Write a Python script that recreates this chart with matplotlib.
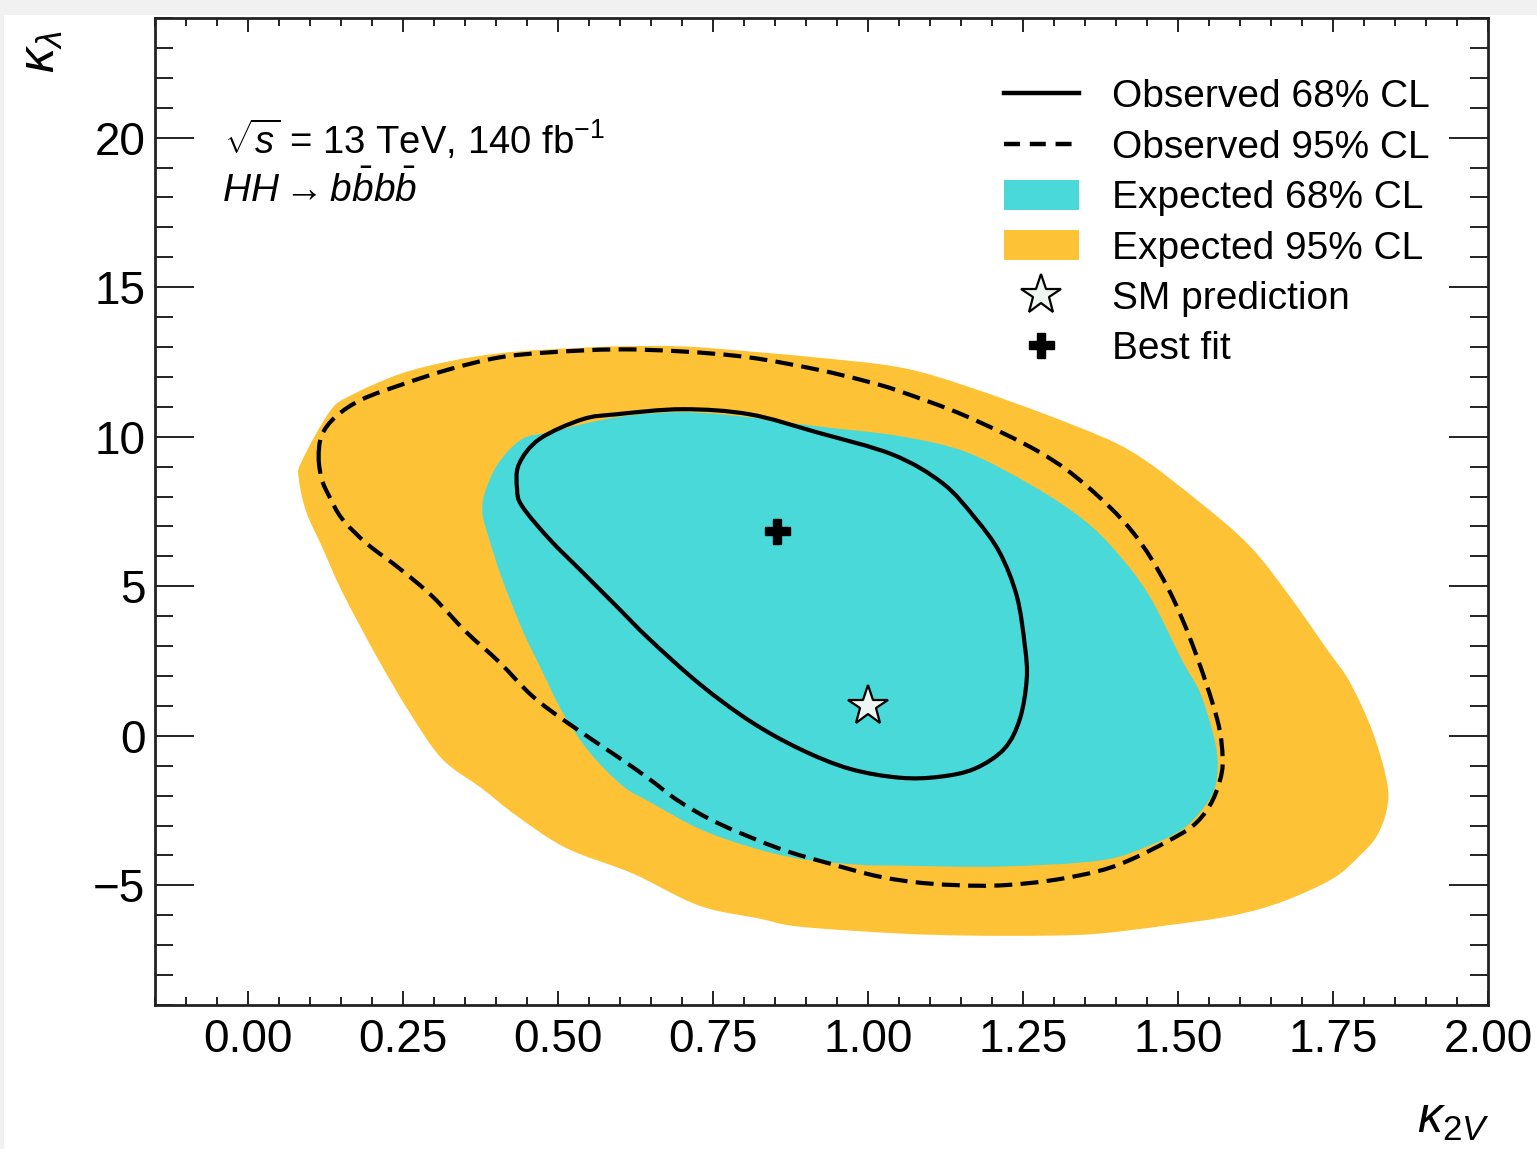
import matplotlib
matplotlib.use("Agg")
import numpy as np
import matplotlib.pyplot as plt
from matplotlib.patches import Rectangle, PathPatch, Patch
from matplotlib.path import Path
from matplotlib.lines import Line2D
from matplotlib.ticker import MultipleLocator, FormatStrFormatter

plt.rcParams["font.family"] = ["Liberation Sans", "DejaVu Sans"]
plt.rcParams["mathtext.fontset"] = "custom"
plt.rcParams["mathtext.rm"] = "Liberation Sans"
plt.rcParams["mathtext.it"] = "Liberation Sans:italic"
plt.rcParams["mathtext.bf"] = "Liberation Sans:bold"

# Expected 95% CL region (kappa_2V, kappa_lambda)
exp95_k2v = [0.082, 0.086, 0.131, 0.163, 0.244, 0.324, 0.405, 0.486, 0.594, 0.701,
             0.809, 0.917, 1.051, 1.159, 1.320, 1.427, 1.535, 1.616, 1.680, 1.740,
             1.777, 1.814, 1.837, 1.837, 1.821, 1.793, 1.750, 1.669, 1.588, 1.482,
             1.374, 1.293, 1.169, 1.051, 0.889, 0.825, 0.728, 0.620, 0.513, 0.433,
             0.378, 0.313, 0.260, 0.207, 0.152, 0.119, 0.094]
exp95_kl = [8.58, 9.15, 10.82, 11.35, 12.09, 12.52, 12.79, 12.92, 13.02, 13.02,
            12.85, 12.65, 12.32, 11.69, 10.48, 9.48, 7.81, 6.34, 4.67, 2.90,
            1.80, 0.13, -1.54, -2.44, -3.34, -4.01, -4.77, -5.54, -6.01, -6.34,
            -6.61, -6.68, -6.68, -6.61, -6.38, -6.11, -5.68, -4.60, -3.75, -2.67,
            -1.77, -0.77, 0.80, 2.67, 4.81, 6.34, 7.48]

# Expected 68% CL region
exp68_k2v = [0.378, 0.384, 0.405, 0.442, 0.486, 0.594, 0.701, 0.809, 0.917, 1.051,
             1.159, 1.266, 1.346, 1.401, 1.454, 1.508, 1.535, 1.556, 1.564, 1.559,
             1.540, 1.508, 1.454, 1.374, 1.212, 1.051, 0.986, 0.889, 0.809, 0.728,
             0.647, 0.604, 0.550, 0.507, 0.475, 0.442, 0.410, 0.389]
exp68_kl = [7.48, 8.25, 9.15, 9.92, 10.15, 10.65, 10.82, 10.65, 10.35, 10.02,
            9.48, 8.35, 7.25, 6.14, 4.67, 2.47, 1.47, 0.13, -0.87, -1.77,
            -2.44, -3.11, -3.67, -4.17, -4.37, -4.34, -4.31, -4.11, -3.71, -3.11,
            -2.20, -1.67, -0.53, 0.80, 2.14, 3.57, 5.24, 6.58]

# Observed 68% CL contour
obs68_k2v = [0.434, 0.437, 0.470, 0.539, 0.594, 0.701, 0.809, 0.917, 1.040, 1.120,
             1.172, 1.212, 1.240, 1.253, 1.256, 1.245, 1.220, 1.172, 1.115, 1.051,
             0.970, 0.889, 0.809, 0.728, 0.647, 0.594, 0.539, 0.486, 0.442]
obs68_kl = [8.25, 9.08, 9.92, 10.58, 10.75, 10.92, 10.75, 10.15, 9.40, 8.45,
            7.30, 6.14, 4.67, 3.01, 1.90, 0.57, -0.43, -1.10, -1.37, -1.40,
            -1.10, -0.43, 0.50, 1.74, 3.24, 4.34, 5.48, 6.58, 7.68]

# Observed 95% CL contour
obs95_k2v = [0.114, 0.119, 0.142, 0.184, 0.249, 0.324, 0.405, 0.486, 0.594, 0.701,
             0.809, 0.917, 0.998, 1.051, 1.159, 1.277, 1.353, 1.427, 1.482, 1.524,
             1.563, 1.572, 1.567, 1.551, 1.524, 1.482, 1.427, 1.374, 1.293, 1.201,
             1.099, 1.019, 0.938, 0.857, 0.760, 0.696, 0.647, 0.594, 0.513, 0.458,
             0.405, 0.352, 0.297, 0.244, 0.192, 0.152, 0.131, 0.119]
obs95_kl = [9.30, 10.05, 10.68, 11.25, 11.75, 12.25, 12.65, 12.82, 12.92, 12.85,
            12.65, 12.25, 11.85, 11.52, 10.68, 9.48, 8.35, 6.81, 5.01, 3.01,
            0.57, -0.77, -1.54, -2.34, -3.01, -3.54, -4.11, -4.51, -4.84, -5.01,
            -4.94, -4.71, -4.27, -3.77, -2.94, -2.20, -1.44, -0.67, 0.47, 1.34,
            2.47, 3.47, 4.67, 5.60, 6.42, 7.25, 8.01, 8.58]

best_fit = (0.853, 6.85)
sm_point = (1.0, 1.0)

x_ticks = [0.00, 0.25, 0.50, 0.75, 1.00, 1.25, 1.50, 1.75, 2.00]
y_ticks = [-5, 0, 5, 10, 15, 20]

c_orange = "#fdc236"
c_cyan = "#4ad9d9"
c_star = "#eef6f1"
dash = (0, (4.3, 2.0))


def closed_curve(xs, ys):
    """Closed path through the contour vertices, drawn as cubic Bezier segments."""
    p = np.column_stack([xs, ys]).astype(float)
    n = len(p)
    verts = [p[0]]
    codes = [Path.MOVETO]
    for i in range(n):
        p0, p1, p2, p3 = p[i - 1], p[i], p[(i + 1) % n], p[(i + 2) % n]
        verts += [p1 + (p2 - p0) / 6.0, p2 - (p3 - p1) / 6.0, p2]
        codes += [Path.CURVE4] * 3
    verts.append(p[0])
    codes.append(Path.CLOSEPOLY)
    return Path(verts, codes)


fig = plt.figure(figsize=(15.37, 11.49), dpi=100, facecolor="white")
# light frame strips along the top and left edge of the canvas
fig.patches.append(Rectangle((0, 1 - 15 / 1149), 1, 15 / 1149, transform=fig.transFigure,
                             facecolor="#f1f1f1", edgecolor="none", zorder=0))
fig.patches.append(Rectangle((0, 0), 4 / 1537, 1, transform=fig.transFigure,
                             facecolor="#f1f1f1", edgecolor="none", zorder=0))

ax = fig.add_axes([155 / 1537, 1 - 1005 / 1149, (1488 - 155) / 1537, (1005 - 18) / 1149])

ax.add_patch(PathPatch(closed_curve(exp95_k2v, exp95_kl), facecolor=c_orange,
                       edgecolor="none", zorder=1))
ax.add_patch(PathPatch(closed_curve(exp68_k2v, exp68_kl), facecolor=c_cyan,
                       edgecolor="none", zorder=2))
ax.add_patch(PathPatch(closed_curve(obs95_k2v, obs95_kl), fill=False, edgecolor="black",
                       lw=3.0, linestyle=dash, zorder=3))
ax.add_patch(PathPatch(closed_curve(obs68_k2v, obs68_kl), fill=False, edgecolor="black",
                       lw=3.0, zorder=3))
ax.plot(*best_fit, marker="P", color="black", markersize=18, ls="none", zorder=4)
ax.plot(*sm_point, marker="*", markerfacecolor=c_star, markeredgecolor="black",
        markeredgewidth=1.6, markersize=30, ls="none", zorder=4)

ax.set_xlim(-0.15, 2.0)
ax.set_ylim(-9, 24)
ax.xaxis.set_minor_locator(MultipleLocator(0.05))
ax.yaxis.set_minor_locator(MultipleLocator(1))
ax.set_xticks(x_ticks)
ax.set_yticks(y_ticks)
ax.xaxis.set_major_formatter(FormatStrFormatter("%.2f"))
ax.tick_params(axis="both", which="both", direction="in", top=True, right=True,
               width=1.4, color="#222222", labelsize=33)
ax.tick_params(axis="x", which="major", length=10, pad=9)
ax.tick_params(axis="x", which="minor", length=6)
ax.tick_params(axis="y", which="major", length=28, pad=7)
ax.tick_params(axis="y", which="minor", length=13)
for sp in ax.spines.values():
    sp.set_linewidth(2.0)
    sp.set_color("#222222")

fig.text(1490 / 1537, 1 - 1120 / 1149, r"$\kappa_{2V}$", ha="right", va="center", fontsize=36)
fig.text(42 / 1537, 1 - 52 / 1149, r"$\kappa_{\lambda}$", ha="center", va="center",
         fontsize=36, rotation=90)

ax.text((224 - 155) / 1333, 1 - (140 - 18) / 987,
        r"$\sqrt{s}$ = 13 TeV, 140 fb$^{-1}$", transform=ax.transAxes,
        ha="left", va="center", fontsize=27.5)
ax.text((222 - 155) / 1333, 1 - (190 - 18) / 987,
        r"$HH \rightarrow b\bar{b}b\bar{b}$", transform=ax.transAxes,
        ha="left", va="center", fontsize=28)

handles = [
    Line2D([], [], color="black", lw=3.2),
    Line2D([], [], color="black", lw=3.2, ls=(0, (3.6, 2.2))),
    Patch(facecolor=c_cyan, edgecolor="none"),
    Patch(facecolor=c_orange, edgecolor="none"),
    Line2D([], [], marker="*", markerfacecolor=c_star, markeredgecolor="black",
           markeredgewidth=1.6, markersize=30, ls="none"),
    Line2D([], [], marker="P", color="black", markersize=18, ls="none"),
]
labels = ["Observed 68% CL", "Observed 95% CL", "Expected 68% CL",
          "Expected 95% CL", "SM prediction", "Best fit"]
leg = ax.legend(handles, labels, loc="upper left",
                bbox_to_anchor=((1004 - 155) / 1333, 1 - (79 - 18) / 987),
                frameon=False, fontsize=28, handlelength=1.92, handleheight=0.8,
                handletextpad=0.85, labelspacing=0.36, borderaxespad=0, borderpad=0)

fig.savefig("out.png", dpi=100, facecolor=fig.get_facecolor())
